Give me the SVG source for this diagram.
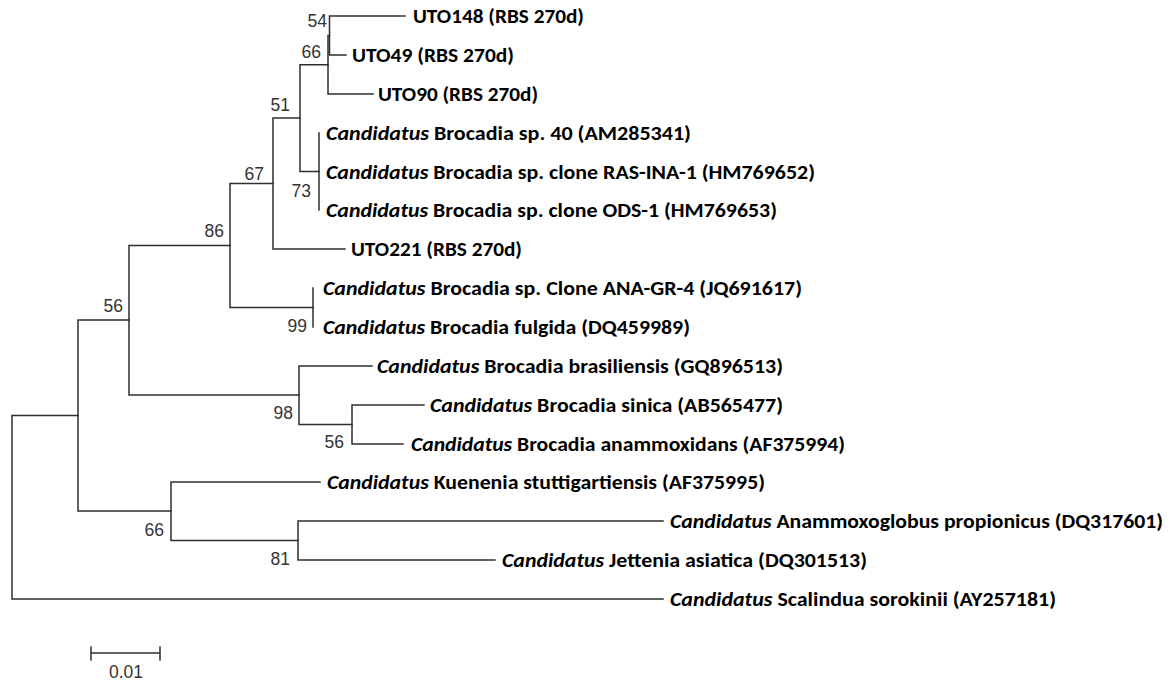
<svg xmlns="http://www.w3.org/2000/svg" width="1175" height="681" viewBox="0 0 1175 681">
  <style>
    .br { fill: none; stroke: #2e2e2e; stroke-width: 1.5; stroke-linecap: square; }
    .tx { font-family: Carlito, Lato, "Liberation Sans", sans-serif; font-size: 20px; font-weight: bold; fill: #000; }
    .it { font-style: italic; }
    .bs { font-family: "Liberation Sans Narrow", "Liberation Sans", Arial, sans-serif; font-size: 17.5px; fill: #333; text-anchor: end; }
    .sc { font-family: "Liberation Sans Narrow", "Liberation Sans", Arial, sans-serif; font-size: 17.5px; fill: #333; text-anchor: middle; }
  </style>
  <rect width="1175" height="681" fill="#fff"/>

  <!-- branches: each elbow runs from one child tip, through the node's vertical, to the other child -->
  <g id="connectors">
    <path class="br" d="M405,16 H329.5 V55 H346"/>
    <path class="br" d="M329.5,35.5 H328 V94 H373"/>
    <path class="br" d="M319,133 V210"/>
    <path class="br" d="M328,64.75 H300 V171.5 H319"/>
    <path class="br" d="M300,118 H273 V249 H345"/>
    <path class="br" d="M313,288 V327"/>
    <path class="br" d="M273,183.5 H230 V307.5 H313"/>
    <path class="br" d="M424,405 H352 V444 H403"/>
    <path class="br" d="M372,366 H299 V424.5 H352"/>
    <path class="br" d="M230,245.5 H129 V395 H299"/>
    <path class="br" d="M663,521 H298 V560 H495"/>
    <path class="br" d="M320,482 H171 V540.5 H298"/>
    <path class="br" d="M129,320 H78 V511 H171"/>
    <path class="br" d="M78,415.5 H12 V599 H663"/>
  </g>

  <!-- taxa -->
  <g id="uto148"><text class="tx" x="413" y="23" textLength="171" lengthAdjust="spacingAndGlyphs">UTO148 (RBS 270d)</text></g>
  <g id="uto49"><text class="tx" x="352" y="62" textLength="162" lengthAdjust="spacingAndGlyphs">UTO49 (RBS 270d)</text></g>
  <g id="uto90"><text class="tx" x="378" y="101" textLength="160" lengthAdjust="spacingAndGlyphs">UTO90 (RBS 270d)</text></g>
  <g id="brocadia-sp40"><text class="tx" x="326" y="140" textLength="365" lengthAdjust="spacingAndGlyphs"><tspan class="it">Candidatus</tspan> Brocadia sp. 40 (AM285341)</text></g>
  <g id="brocadia-ras-ina-1"><text class="tx" x="326" y="179" textLength="489" lengthAdjust="spacingAndGlyphs"><tspan class="it">Candidatus</tspan> Brocadia sp. clone RAS-INA-1 (HM769652)</text></g>
  <g id="brocadia-ods-1"><text class="tx" x="326" y="217" textLength="451" lengthAdjust="spacingAndGlyphs"><tspan class="it">Candidatus</tspan> Brocadia sp. clone ODS-1 (HM769653)</text></g>
  <g id="uto221"><text class="tx" x="351" y="256" textLength="171" lengthAdjust="spacingAndGlyphs">UTO221 (RBS 270d)</text></g>
  <g id="brocadia-ana-gr-4"><text class="tx" x="323" y="295" textLength="479" lengthAdjust="spacingAndGlyphs"><tspan class="it">Candidatus</tspan> Brocadia sp. Clone ANA-GR-4 (JQ691617)</text></g>
  <g id="brocadia-fulgida"><text class="tx" x="323" y="334" textLength="367" lengthAdjust="spacingAndGlyphs"><tspan class="it">Candidatus</tspan> Brocadia fulgida (DQ459989)</text></g>
  <g id="brocadia-brasiliensis"><text class="tx" x="377" y="373" textLength="406" lengthAdjust="spacingAndGlyphs"><tspan class="it">Candidatus</tspan> Brocadia brasiliensis (GQ896513)</text></g>
  <g id="brocadia-sinica"><text class="tx" x="430" y="412" textLength="353" lengthAdjust="spacingAndGlyphs"><tspan class="it">Candidatus</tspan> Brocadia sinica (AB565477)</text></g>
  <g id="brocadia-anammoxidans"><text class="tx" x="411" y="451" textLength="434" lengthAdjust="spacingAndGlyphs"><tspan class="it">Candidatus</tspan> Brocadia anammoxidans (AF375994)</text></g>
  <g id="kuenenia"><text class="tx" x="327" y="489" textLength="438" lengthAdjust="spacingAndGlyphs"><tspan class="it">Candidatus</tspan> Kuenenia stuttigartiensis (AF375995)</text></g>
  <g id="anammoxoglobus"><text class="tx" x="670" y="528" textLength="493" lengthAdjust="spacingAndGlyphs"><tspan class="it">Candidatus</tspan> Anammoxoglobus propionicus (DQ317601)</text></g>
  <g id="jettenia"><text class="tx" x="502" y="567" textLength="365" lengthAdjust="spacingAndGlyphs"><tspan class="it">Candidatus</tspan> Jettenia asiatica (DQ301513)</text></g>
  <g id="scalindua"><text class="tx" x="670" y="606" textLength="386" lengthAdjust="spacingAndGlyphs"><tspan class="it">Candidatus</tspan> Scalindua sorokinii (AY257181)</text></g>

  <!-- bootstrap support at internal nodes -->
  <g id="node-54"><text class="bs" x="327" y="27">54</text></g>
  <g id="node-66a"><text class="bs" x="321" y="58">66</text></g>
  <g id="node-51"><text class="bs" x="290" y="111">51</text></g>
  <g id="node-67"><text class="bs" x="264" y="180">67</text></g>
  <g id="node-73"><text class="bs" x="311" y="197">73</text></g>
  <g id="node-86"><text class="bs" x="224" y="237">86</text></g>
  <g id="node-56a"><text class="bs" x="123" y="312">56</text></g>
  <g id="node-99"><text class="bs" x="307" y="332">99</text></g>
  <g id="node-98"><text class="bs" x="293" y="419">98</text></g>
  <g id="node-56b"><text class="bs" x="344" y="448">56</text></g>
  <g id="node-66b"><text class="bs" x="164" y="536">66</text></g>
  <g id="node-81"><text class="bs" x="290" y="565">81</text></g>

  <!-- scale bar -->
  <g id="scale-bar">
    <path class="br" d="M91,653 H160 M91,647 V660 M160,647 V660" stroke-linecap="butt"/>
    <text class="sc" x="126" y="678">0.01</text>
  </g>
</svg>
